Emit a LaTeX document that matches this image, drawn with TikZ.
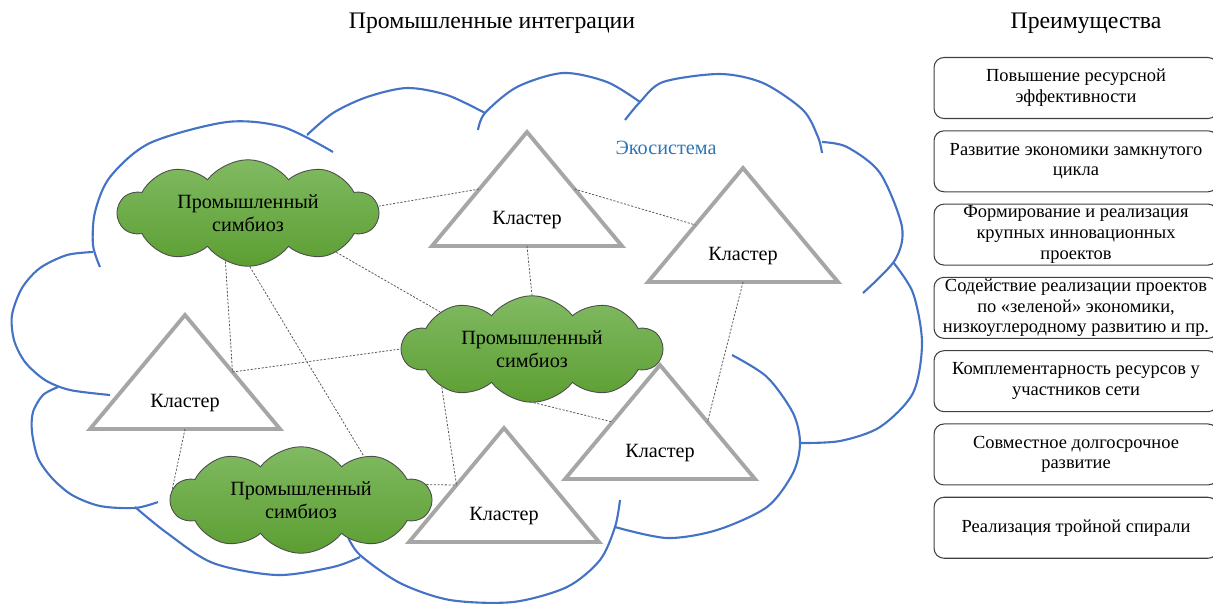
\documentclass[tikz,border=0pt]{standalone}
\usepackage{fontspec}
\setmainfont{Liberation Serif}
\usetikzlibrary{shapes.symbols,positioning,calc}
\definecolor{ecoblue}{RGB}{68,114,196}
\definecolor{ecotext}{RGB}{46,117,182}
\definecolor{leaftop}{RGB}{128,186,98}
\definecolor{leafbot}{RGB}{92,158,50}
\definecolor{clustgray}{RGB}{166,166,166}

\begin{document}
\begin{tikzpicture}[
    x=0.02cm, y=-0.02cm,
    node distance=0.225cm,
    eco/.style={ecoblue, line width=1.2pt},
    symbiosis/.style={cloud, cloud puffs=10, cloud puff arc=105, aspect=2.5, draw=black!70, line width=0.5pt, top color=leaftop, bottom color=leafbot, minimum width=5.2cm, minimum height=1.95cm, align=center, inner sep=0pt, font=\fontsize{11.5}{13}\selectfont},
    cluster/.style={draw=clustgray, line width=2.2pt, fill=white},
    link/.style={black!65, line width=0.45pt, dash pattern=on 1.2pt off 0.9pt},
    benefit/.style={draw=black!75, line width=0.6pt, rounded corners=0.2cm, minimum width=5.68cm, minimum height=1.22cm, inner ysep=0pt, align=center, font=\fontsize{10.5}{11.8}\selectfont},
    heading/.style={font=\fontsize{13.5}{16}\selectfont}
]
\useasboundingbox (0,0) rectangle (1213,603);
\clip (0,0) rectangle (1213,603);

% Headings
\node[heading] (title) at (492,23) {Промышленные интеграции};
\node[heading] (adv) at (1086,23) {Преимущества};

% Ecosystem cloud
\draw[eco] plot[smooth] coordinates {(100,267) (93,245) (95,212) (110,177) (150,143) (227,122) (283,127) (333,152)};
\draw[eco] plot[smooth] coordinates {(307,135) (333,113) (367,97) (407,88) (447,95) (485,113)};
\draw[eco] plot[smooth] coordinates {(478,130) (485,113) (517,87) (563,73) (607,82) (640,102)};
\draw[eco] plot[smooth] coordinates {(625,120) (640,102) (663,82) (720,74) (763,83) (803,110) (818,137) (822,153)};
\draw[eco] plot[smooth] coordinates {(822,142) (847,147) (880,173) (902,227) (895,260) (863,293)};
\draw[eco] plot[smooth] coordinates {(893,262) (913,293) (922,343) (913,393) (880,427) (840,441) (800,443)};
\draw[eco] plot[smooth] coordinates {(732,355) (767,377) (793,413) (800,443) (793,473) (767,507) (717,530) (667,538) (615,527)};
\draw[eco] plot[smooth] coordinates {(620,500) (615,527) (600,560) (567,587) (513,602) (450,600) (400,583) (360,555) (348,537)};
\draw[eco] plot[smooth] coordinates {(135,507) (167,533) (213,563) (277,575) (333,567) (360,557)};
\draw[eco] plot[smooth] coordinates {(58,387) (43,395) (33,412) (32,432) (38,458) (52,478) (72,495) (100,506) (135,508) (158,502)};
\draw[eco] plot[smooth] coordinates {(93,252) (67,255) (40,268) (22,288) (12,315) (14,340) (25,362) (45,380) (70,390) (110,395)};
\node[text=ecotext, font=\fontsize{11.5}{13}\selectfont] (eco) at (666,148) {Экосистема};

% Clusters
\foreach \n/\x/\y in {tt/527/132, tr/743/168, tl/185/315, tm/660/365, tb/504/428}{
  \draw[cluster] (\x,\y) coordinate (\n-a) -- ++(95,114) coordinate (\n-r) -- ++(-190,0) coordinate (\n-l) -- cycle;
  \coordinate (\n-w) at ($(\n-a)!0.5!(\n-l)$);
  \coordinate (\n-e) at ($(\n-a)!0.5!(\n-r)$);
  \coordinate (\n-s) at ($(\n-l)!0.5!(\n-r)$);
  \node[font=\fontsize{11.5}{13}\selectfont] (\n) at ($(\n-a)+(0,88)$) {Кластер};
}

% Industrial symbiosis
\node[symbiosis] (g1) at (248,213) {Промышленный\\симбиоз};
\node[symbiosis] (g2) at (532,349) {Промышленный\\симбиоз};
\node[symbiosis] (g3) at (301,500) {Промышленный\\симбиоз};

% Links
\draw[link] (g1.3) -- (tt-w);
\draw[link] (g1.336) -- (g2.158);
\draw[link] (g1.245) -- (tl-e);
\draw[link] (g1.272) -- (g3.35);
\draw[link] (tl-e) -- (g2.180);
\draw[link] (tt-e) -- (tr-w);
\draw[link] (tt-s) -- (g2.90);
\draw[link] (tr-s) -- (tm-e);
\draw[link] (g2.272) -- (tm-w);
\draw[link] (g2.203) -- (tb-w);
\draw[link] (g3.7) -- (tb-w);
\draw[link] (tl-s) -- (g3.175);

% Benefits
\node[benefit] (b1) at (1076,88) {Повышение ресурсной\\эффективности};
\node[benefit, below=of b1] (b2) {Развитие экономики замкнутого\\цикла};
\node[benefit, below=of b2] (b3) {Формирование и реализация\\крупных инновационных\\проектов};
\node[benefit, below=of b3] (b4) {Содействие реализации проектов\\по «зеленой» экономики,\\низкоуглеродному развитию и пр.};
\node[benefit, below=of b4] (b5) {Комплементарность ресурсов у\\участников сети};
\node[benefit, below=of b5] (b6) {Совместное долгосрочное\\развитие};
\node[benefit, below=of b6] (b7) {Реализация тройной спирали};
\end{tikzpicture}
\end{document}
